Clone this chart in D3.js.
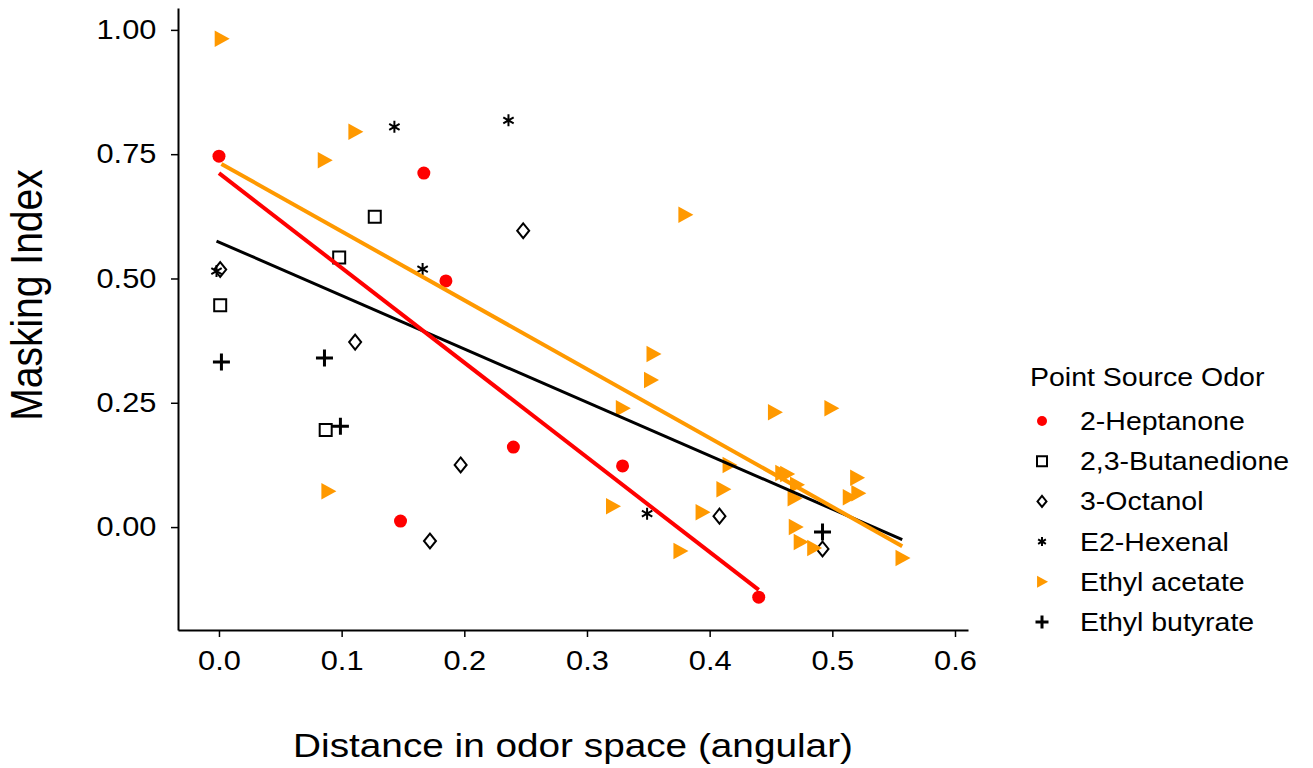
<!DOCTYPE html>
<html>
<head>
<meta charset="utf-8">
<script src="https://cdn.jsdelivr.net/npm/d3@7"></script>
<style>
  body { margin: 0; background: #fff; }
  text { font-family: "Liberation Sans", Arial, sans-serif; fill: #000; }
</style>
</head>
<body>
<div id="chart"></div>
<script>
// odor groups, in legend order
var odors = ["2-Heptanone", "2,3-Butanedione", "3-Octanol", "E2-Hexenal", "Ethyl acetate", "Ethyl butyrate"];

var heptanoneX = [0.000, 0.167, 0.185, 0.240, 0.329, 0.148, 0.440];
var heptanoneY = [0.746, 0.712, 0.495, 0.161, 0.123, 0.012, -0.141];

var butanedioneX = [0.127, 0.098, 0.001, 0.087];
var butanedioneY = [0.624, 0.542, 0.446, 0.195];

var octanolX = [0.001, 0.248, 0.111, 0.197, 0.172, 0.408, 0.492];
var octanolY = [0.518, 0.596, 0.372, 0.125, -0.028, 0.022, -0.044];

var hexenalX = [0.143, 0.236, 0.166, -0.002, 0.349];
var hexenalY = [0.805, 0.818, 0.519, 0.515, 0.027];

var acetateX = [0.002, 0.111, 0.086, 0.380, 0.354, 0.352, 0.329, 0.453, 0.499, 0.416, 0.459, 0.463,
                0.471, 0.469, 0.411, 0.520, 0.514, 0.521, 0.321, 0.394, 0.376, 0.470, 0.474, 0.485, 0.557, 0.089];
var acetateY = [0.982, 0.795, 0.738, 0.628, 0.348, 0.296, 0.239, 0.231, 0.239, 0.125, 0.109, 0.107,
                0.085, 0.058, 0.076, 0.099, 0.060, 0.068, 0.042, 0.030, -0.048, 0.000, -0.030, -0.042, -0.062, 0.072];

var butyrateX = [0.002, 0.086, 0.099, 0.492];
var butyrateY = [0.332, 0.340, 0.203, -0.010];

var xTicks = [0, 0.1, 0.2, 0.3, 0.4, 0.5, 0.6];
var yTicks = [0, 0.25, 0.5, 0.75, 1];

var groups = [
  { name: odors[0], xs: heptanoneX, ys: heptanoneY, shape: "circle", color: "#ff0000", fit: true },
  { name: odors[1], xs: butanedioneX, ys: butanedioneY, shape: "square", color: "#000" },
  { name: odors[2], xs: octanolX, ys: octanolY, shape: "diamond", color: "#000" },
  { name: odors[3], xs: hexenalX, ys: hexenalY, shape: "asterisk", color: "#000" },
  { name: odors[4], xs: acetateX, ys: acetateY, shape: "triangle", color: "#ff9900", fit: true },
  { name: odors[5], xs: butyrateX, ys: butyrateY, shape: "plus", color: "#000" }
];

// the original text is drawn a little wide
var stretch = 1.14;

var svg = d3.select("#chart").append("svg")
    .attr("width", 1313)
    .attr("height", 768);

var x = d3.scaleLinear().domain([-0.0334, 0.6106]).range([178, 968]);
var y = d3.scaleLinear().domain([-0.207, 1.044]).range([630, 8]);

// axes
var yAxis = svg.append("g")
    .attr("transform", "translate(178,0)")
    .call(d3.axisLeft(y).tickValues(yTicks).tickFormat(d3.format(".2f")).tickSize(7).tickSizeOuter(0).tickPadding(12));
var xAxis = svg.append("g")
    .attr("transform", "translate(0,630)")
    .call(d3.axisBottom(x).tickValues(xTicks).tickFormat(d3.format(".1f")).tickSize(7).tickSizeOuter(0).tickPadding(10));

[yAxis, xAxis].forEach(function (a) {
  a.select(".domain").attr("stroke", "#000").attr("stroke-width", 2);
  a.selectAll(".tick line").attr("stroke", "#000").attr("stroke-width", 1.5);
  a.selectAll(".tick text")
      .attr("font-size", 27)
      .attr("font-family", "Liberation Sans, Arial, sans-serif")
      .attr("transform", "scale(" + stretch + ",1)");
});
xAxis.selectAll(".tick text").attr("dy", "0.85em");

svg.append("text")
    .attr("transform", "translate(573,757) scale(" + stretch + ",1)")
    .attr("text-anchor", "middle")
    .attr("font-size", 34)
    .text("Distance in odor space (angular)");

svg.append("text")
    .attr("transform", "translate(42,295) scale(" + stretch + ",1) rotate(-90)")
    .attr("text-anchor", "middle")
    .attr("font-size", 39)
    .text("Masking Index");

// marker paths, centred on 0,0
function markerPath(shape, s) {
  var p = d3.path();
  if (shape === "circle") {
    p.arc(0, 0, s / 2, 0, 2 * Math.PI);
  } else if (shape === "square") {
    p.rect(-s / 2, -s / 2, s, s);
  } else if (shape === "diamond") {
    p.moveTo(0, -s * 0.62); p.lineTo(s * 0.5, 0); p.lineTo(0, s * 0.62); p.lineTo(-s * 0.5, 0); p.closePath();
  } else if (shape === "triangle") {
    p.moveTo(-s * 0.45, -s * 0.55); p.lineTo(s * 0.55, 0); p.lineTo(-s * 0.45, s * 0.55); p.closePath();
  } else if (shape === "plus") {
    p.moveTo(-s / 2, 0); p.lineTo(s / 2, 0); p.moveTo(0, -s / 2); p.lineTo(0, s / 2);
  } else if (shape === "asterisk") {
    for (var k = 0; k < 3; k++) {
      var a = Math.PI / 2 + k * Math.PI / 3;
      p.moveTo(Math.cos(a) * s / 2, Math.sin(a) * s / 2);
      p.lineTo(-Math.cos(a) * s / 2, -Math.sin(a) * s / 2);
    }
  }
  return p.toString();
}

var markerSize = { circle: 13, square: 12, diamond: 12, triangle: 15, plus: 17, asterisk: 12 };
var legendSize = { circle: 10, square: 10, diamond: 9, triangle: 11, plus: 13, asterisk: 9 };

function styleMarker(sel, g) {
  if (g.shape === "circle" || g.shape === "triangle") {
    sel.attr("fill", g.color).attr("stroke", "none");
  } else {
    sel.attr("fill", "none").attr("stroke", g.color)
       .attr("stroke-width", g.shape === "plus" ? 3 : 2);
  }
}

function fitLine(xs, ys) {
  var mx = d3.mean(xs), my = d3.mean(ys), sxy = 0, sxx = 0;
  xs.forEach(function (v, i) { sxy += (v - mx) * (ys[i] - my); sxx += (v - mx) * (v - mx); });
  var b = sxy / sxx, a = my - b * mx;
  var ext = d3.extent(xs);
  return [[ext[0], a + b * ext[0]], [ext[1], a + b * ext[1]]];
}

var line = d3.line()
    .x(function (d) { return x(d[0]); })
    .y(function (d) { return y(d[1]); });

// points
groups.forEach(function (g) {
  var pts = g.xs.map(function (v, i) { return [v, g.ys[i]]; });
  svg.append("g").selectAll("path")
      .data(pts)
      .join("path")
      .attr("d", markerPath(g.shape, markerSize[g.shape]))
      .attr("transform", function (d) { return "translate(" + x(d[0]) + "," + y(d[1]) + ")"; })
      .call(styleMarker, g);
});

// regression lines: overall, then the fitted groups
var allX = [], allY = [];
groups.forEach(function (g) { allX = allX.concat(g.xs); allY = allY.concat(g.ys); });

svg.append("path")
    .datum(fitLine(allX, allY))
    .attr("d", line)
    .attr("fill", "none")
    .attr("stroke", "#000")
    .attr("stroke-width", 3);

groups.filter(function (g) { return g.fit; }).forEach(function (g) {
  svg.append("path")
      .datum(fitLine(g.xs, g.ys))
      .attr("d", line)
      .attr("fill", "none")
      .attr("stroke", g.color)
      .attr("stroke-width", 4);
});

// legend
var legend = svg.append("g").attr("transform", "translate(1030,0)");
legend.append("text")
    .attr("transform", "translate(0,386) scale(" + stretch + ",1)")
    .attr("font-size", 25)
    .text("Point Source Odor");

var rows = legend.selectAll("g.row")
    .data(groups)
    .join("g")
    .attr("class", "row")
    .attr("transform", function (d, i) { return "translate(0," + (421 + i * 40.2) + ")"; });

rows.append("path")
    .attr("d", function (d) { return markerPath(d.shape, legendSize[d.shape]); })
    .attr("transform", "translate(12,0)")
    .each(function (d) { d3.select(this).call(styleMarker, d); });

rows.append("text")
    .attr("transform", "translate(50,9) scale(" + stretch + ",1)")
    .attr("font-size", 25)
    .text(function (d) { return d.name; });
</script>
</body>
</html>
